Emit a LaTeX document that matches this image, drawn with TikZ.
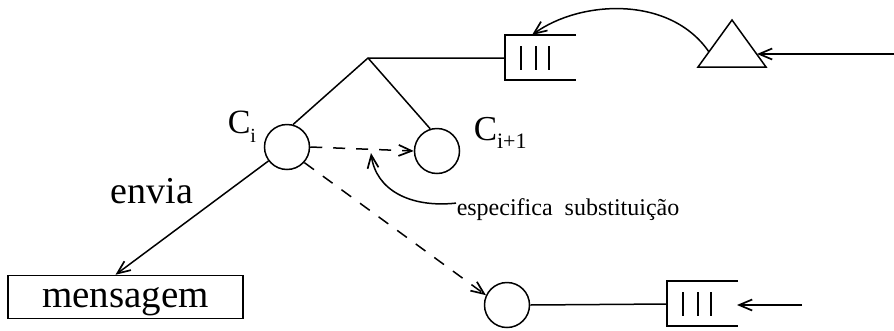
\documentclass[tikz,border=0pt]{standalone}
\usepackage{fontspec}
\setmainfont{Liberation Serif}
\usetikzlibrary{arrows.meta}

% open box of a queue: #1 name, left end at (#2,#3)
\newcommand{\fila}[3]{%
  \coordinate (#1) at (#2,#3);
  \draw (#2+71,#3-23) -- (#2,#3-23) -- (#2,#3+22) -- (#2+71,#3+22);
  \foreach \dx in {16,31,44} \draw[line width=2pt] (#2+\dx,#3-12) -- (#2+\dx,#3+12);
}

\begin{document}
\begin{tikzpicture}[x=1pt, y=-1pt, line width=1.5pt,
    estado/.style={draw, circle, minimum size=45pt, inner sep=0pt},
    seta/.style={-{Straight Barb[length=13pt, width=11pt, line width=1.7pt]}},
    tracejado/.style={dash pattern=on 12pt off 11pt},
    rotulo/.style={anchor=base west, inner sep=0pt}]
  \useasboundingbox (0,0) rectangle (894,330);

  \node[estado] (ci) at (287,147) {};
  \node[estado] (cj) at (437,151) {};
  \node[estado] (ck) at (507,305) {};
  \node[draw, minimum width=235pt, minimum height=43pt, inner sep=0pt, text depth=0pt,
        font=\fontsize{39}{40}\selectfont] (msg) at (125.5,297) {mensagem};

  \node[rotulo, font=\fontsize{34}{36}\selectfont] (li) at (227,133) {C\raisebox{-9pt}{\fontsize{20}{20}\selectfont i}};
  \node[rotulo, font=\fontsize{35}{36}\selectfont] (lj) at (473,140) {C\raisebox{-8pt}{\fontsize{22}{22}\selectfont i+1}};
  \node[rotulo, font=\fontsize{38}{40}\selectfont] (env) at (110,203) {envia};
  \node[rotulo, font=\fontsize{24}{26}\selectfont] (esp) at (456,215) {especifica\ \ substituição};

  % queues
  \fila{fa}{505}{58}
  \fila{fb}{667}{304}

  % triangle
  \coordinate (t1) at (698,67);
  \coordinate (t2) at (732,20);
  \coordinate (t3) at (766,67);
  \draw (t1) -- (t2) -- (t3) -- cycle;
  \coordinate (t4) at (757,54);
  \coordinate (t5) at (709,52);
  \coordinate (ent) at (894,54);
  \draw[seta] (ent) -- (t4);
  \draw[seta] (t5) .. controls (670,-5) and (580,0) .. ([xshift=27pt]fa.center |- 0,35);

  % tree
  \coordinate (topo) at (368,58);
  \draw (fa) -- (topo) -- (ci.75);
  \draw (topo) -- (cj.107);
  \draw[seta, tracejado] (ci.east) -- (cj.west);
  \draw[seta, tracejado] (ci.-42) -- (ck.155);
  \draw (ck.east) -- (fb);
  \coordinate (ent2) at (802,305);
  \draw[seta] (ent2) -- (737,305);
  \draw[seta] (ci.217) -- ([xshift=-10pt]msg.north);

  \coordinate (alvo) at (371,153);
  \draw[seta] ([yshift=6pt]esp.west) .. controls (410,208) and (376,190) .. (alvo);
\end{tikzpicture}
\end{document}
